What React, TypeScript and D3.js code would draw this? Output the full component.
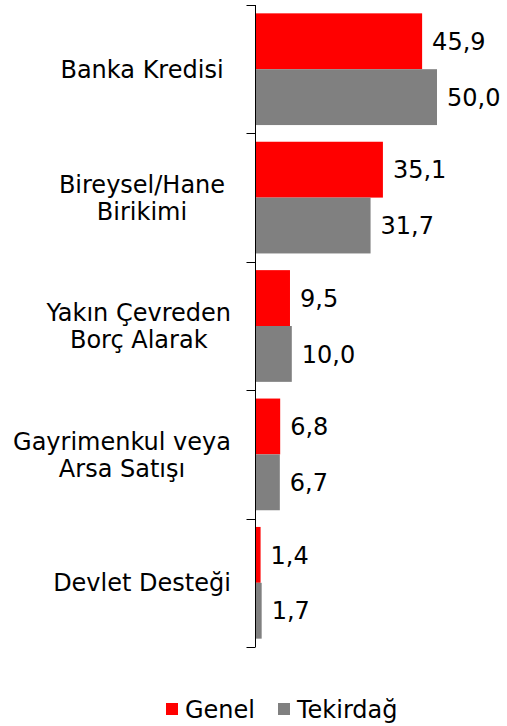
import React from "react";
import * as d3 from "d3";

const categories: string[][] = [
  ["Banka Kredisi"],
  ["Bireysel/Hane", "Birikimi"],
  ["Yakın Çevreden", "Borç Alarak"],
  ["Gayrimenkul veya", "Arsa Satışı"],
  ["Devlet Desteği"],
];
const genel: number[] = [45.9, 35.1, 9.5, 6.8, 1.4];
const tekirdag: number[] = [50.0, 31.7, 10.0, 6.7, 1.7];
const seriesNames = ["Genel", "Tekirdağ"];
const colors = ["#ff0000", "#808080"];

const font = "DejaVu Sans, Verdana, sans-serif";
const fs = 24;

function measure(t: string): number {
  try {
    const c = document.createElement("canvas").getContext("2d");
    if (!c) return t.length * fs * 0.6;
    c.font = `${fs}px ${font}`;
    return c.measureText(t).width;
  } catch {
    return t.length * fs * 0.6;
  }
}

export default function App() {
  const W = 507, H = 726;
  const axisX = 255.5;
  const top = 5, bottom = 647;
  const x = d3.scaleLinear().domain([0, 50]).range([axisX, axisX + 181.5]);
  const idx = d3.range(categories.length);
  const y = d3.scaleBand<number>().domain(idx).range([top, bottom]).paddingInner(0.13).paddingOuter(0.065);
  const inner = d3.scaleBand<number>().domain([0, 1]).range([0, y.bandwidth()]);
  const outer = d3.scaleBand<number>().domain(idx).range([top, bottom]);
  const data = [genel, tekirdag];
  const fmt = (v: number) => v.toFixed(1).replace(".", ",");
  const lh = 27;
  const labelCenter = 142;
  const labelMaxRight = 231;
  return (
    <svg width={W} height={H} style={{ position: "absolute", left: 0, top: 0, background: "#fff" }} fontFamily={font}>
      {idx.map((i) =>
        data.map((s, k) => {
          const yy = (y(i) as number) + (inner(k) as number);
          return (
            <g key={`${i}-${k}`}>
              <rect x={axisX} y={yy} width={x(s[i]) - axisX} height={inner.bandwidth()} fill={colors[k]} />
              <text x={x(s[i]) + 10} y={yy + inner.bandwidth() / 2} dy="0.36em" fontSize={fs} fill="#000">
                {fmt(s[i])}
              </text>
            </g>
          );
        })
      )}
      <line x1={axisX} x2={axisX} y1={top} y2={bottom} stroke="#000" strokeWidth={1} />
      {d3.range(categories.length + 1).map((i) => {
        const ty = Math.round(top + i * outer.step()) + 0.5;
        return <line key={i} x1={axisX - 9} x2={axisX} y1={ty} y2={ty} stroke="#000" strokeWidth={1} />;
      })}
      {idx.map((i) => {
        const cy = (outer(i) as number) + outer.bandwidth() / 2;
        const lines = categories[i];
        const maxW = d3.max(lines, measure) as number;
        const cx = Math.min(labelCenter, labelMaxRight - maxW / 2);
        return (
          <text key={i} textAnchor="middle" fontSize={fs} fill="#000">
            {lines.map((l, j) => (
              <tspan key={j} x={cx} y={cy + (j - (lines.length - 1) / 2) * lh} dy="0.36em">
                {l}
              </tspan>
            ))}
          </text>
        );
      })}
      <g>
        <rect x={166} y={703} width={12} height={12} fill={colors[0]} />
        <text x={185} y={709} dy="0.36em" fontSize={fs}>{seriesNames[0]}</text>
        <rect x={278} y={703} width={12} height={12} fill={colors[1]} />
        <text x={297} y={709} dy="0.36em" fontSize={fs}>{seriesNames[1]}</text>
      </g>
    </svg>
  );
}
